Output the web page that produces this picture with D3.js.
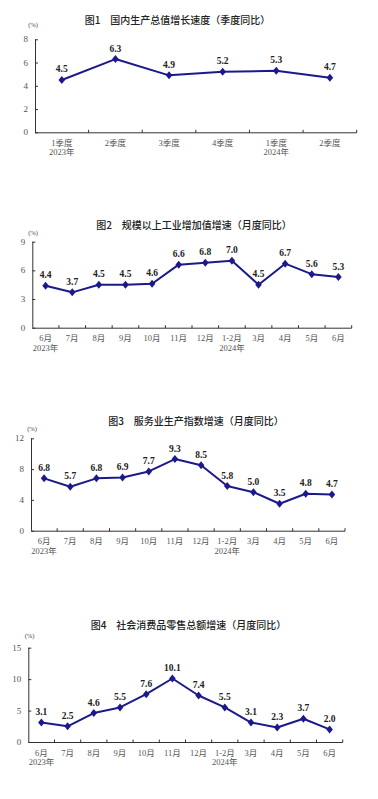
<!DOCTYPE html>
<html><head><meta charset="utf-8">
<script src="https://cdn.jsdelivr.net/npm/d3@7"></script>
<style>
html,body{margin:0;padding:0;background:#fff;}
svg{display:block;}
</style></head>
<body>
<div id="chart"></div>
<script>
// ---- data ----
const titles = [
  "图1　国内生产总值增长速度（季度同比）",
  "图2　规模以上工业增加值增速（月度同比）",
  "图3　服务业生产指数增速（月度同比）",
  "图4　社会消费品零售总额增速（月度同比）"
];
const quarterCats = ["1季度","2季度","3季度","4季度","1季度","2季度"];
const monthCats = ["6月","7月","8月","9月","10月","11月","12月","1-2月","3月","4月","5月","6月"];
const gdpValues = [4.5, 6.3, 4.9, 5.2, 5.3, 4.7];
const industryValues = [4.4, 3.7, 4.5, 4.5, 4.6, 6.6, 6.8, 7.0, 4.5, 6.7, 5.6, 5.3];
const serviceValues = [6.8, 5.7, 6.8, 6.9, 7.7, 9.3, 8.5, 5.8, 5.0, 3.5, 4.8, 4.7];
const retailValues = [3.1, 2.5, 4.6, 5.5, 7.6, 10.1, 7.4, 5.5, 3.1, 2.3, 3.7, 2.0];
const gdpTicks = [0, 2, 4, 6, 8];
const industryTicks = [0, 3, 6, 9];
const serviceTicks = [0, 4, 8, 12];
const retailTicks = [0, 5, 10, 15];
const quarterYears = {0: "2023年", 4: "2024年"};
const monthYears = {0: "2023年", 7: "2024年"};
const unitLabel = "(%)";

// ---- layout (not data) ----
const charts = [
  {title: titles[0], cats: quarterCats, vals: gdpValues, ticks: gdpTicks, years: quarterYears,
   x0: 35, x1: 356.7, yTop: 39.3, yBot: 132.3, titleX: 177.5, titleY: 24, unitX: 33, unitY: 26.5},
  {title: titles[1], cats: monthCats, vals: industryValues, ticks: industryTicks, years: monthYears,
   x0: 32.3, x1: 351.7, yTop: 241.7, yBot: 327.7, titleX: 194, titleY: 229, unitX: 33, unitY: 234.5},
  {title: titles[2], cats: monthCats, vals: serviceValues, ticks: serviceTicks, years: monthYears,
   x0: 31, x1: 345, yTop: 438.3, yBot: 530.7, titleX: 196, titleY: 424.5, unitX: 32, unitY: 430.5},
  {title: titles[3], cats: monthCats, vals: retailValues, ticks: retailTicks, years: monthYears,
   x0: 28.3, x1: 342.7, yTop: 647.7, yBot: 742, titleX: 188.5, titleY: 628.5, unitX: 29.5, unitY: 637.5}
];

const W = 378, H = 799;
const serif = "'Liberation Serif','Times New Roman','Noto Sans CJK SC',serif";
const sans = "'Noto Sans CJK SC','Noto Sans',sans-serif";
const lineColor = "#1c1a8a";
const axisColor = "#333";

const svg = d3.select("#chart").append("svg").attr("width", W).attr("height", H);

charts.forEach((c, ci) => {
  const g = svg.append("g");
  const x = d3.scaleBand().domain(c.cats.map((d, i) => i)).range([c.x0, c.x1]).paddingInner(0).paddingOuter(0);
  const yMax = c.ticks[c.ticks.length - 1];
  const y = d3.scaleLinear().domain([0, yMax]).range([c.yBot, c.yTop]);

  // title
  g.append("text").attr("x", c.titleX).attr("y", c.titleY)
    .attr("text-anchor", "middle").attr("font-family", sans).attr("font-size", 10)
    .attr("font-weight", 500).attr("fill", "#222").text(c.title);
  // unit
  g.append("text").attr("x", c.unitX).attr("y", c.unitY)
    .attr("text-anchor", "middle").attr("font-family", serif).attr("font-size", 6.5)
    .attr("fill", "#444").text(unitLabel);

  // y axis
  const yAxis = d3.axisRight(y).tickValues(c.ticks).tickSize(3).tickFormat(() => "");
  const ya = g.append("g").attr("transform", `translate(${c.x0},0)`).call(yAxis);
  ya.select(".domain").attr("stroke", axisColor).attr("d", `M0.5,${c.yTop}V${c.yBot}`);
  ya.selectAll(".tick line").attr("stroke", axisColor);
  g.selectAll(".ylab").data(c.ticks).join("text")
    .attr("x", c.x0 - 7).attr("y", d => y(d) + 3)
    .attr("text-anchor", "end").attr("font-family", serif).attr("font-size", 9)
    .attr("fill", "#555").text(d => d);

  // x axis
  const bw = x.bandwidth();
  const xa = g.append("g").attr("transform", `translate(0,${c.yBot})`);
  xa.append("line").attr("x1", c.x0).attr("x2", c.x1).attr("y1", 0.5).attr("y2", 0.5)
    .attr("stroke", axisColor).attr("stroke-width", 1);
  xa.selectAll(".xt").data(c.cats.map((d, i) => i)).join("line")
    .attr("x1", i => x(i) + bw).attr("x2", i => x(i) + bw)
    .attr("y1", 0.5).attr("y2", -2.5).attr("stroke", axisColor);
  xa.selectAll(".xl").data(c.cats).join("text")
    .attr("x", (d, i) => x(i) + bw / 2).attr("y", 13.5)
    .attr("text-anchor", "middle").attr("font-family", serif).attr("font-size", 8.5)
    .attr("fill", "#555").text(d => d);
  Object.entries(c.years).forEach(([i, t]) => {
    xa.append("text").attr("x", x(+i) + bw / 2).attr("y", 23)
      .attr("text-anchor", "middle").attr("font-family", serif).attr("font-size", 8.5)
      .attr("fill", "#555").text(t);
  });

  // line
  const line = d3.line().x((d, i) => x(i) + bw / 2).y(d => y(d));
  g.append("path").datum(c.vals).attr("d", line).attr("fill", "none")
    .attr("stroke", lineColor).attr("stroke-width", 2).attr("stroke-linejoin", "round");
  // markers
  g.selectAll(".mk").data(c.vals).join("path")
    .attr("transform", (d, i) => `translate(${x(i) + bw / 2},${y(d)})`)
    .attr("d", "M0,-4L3.3,0L0,4L-3.3,0Z").attr("fill", lineColor);
  // value labels
  g.selectAll(".vl").data(c.vals).join("text")
    .attr("x", (d, i) => x(i) + bw / 2).attr("y", d => y(d) - 7.5)
    .attr("text-anchor", "middle").attr("font-family", serif).attr("font-size", 9.5)
    .attr("font-weight", "bold").attr("fill", "#222").text(d => d.toFixed(1));
});
</script>
</body></html>
